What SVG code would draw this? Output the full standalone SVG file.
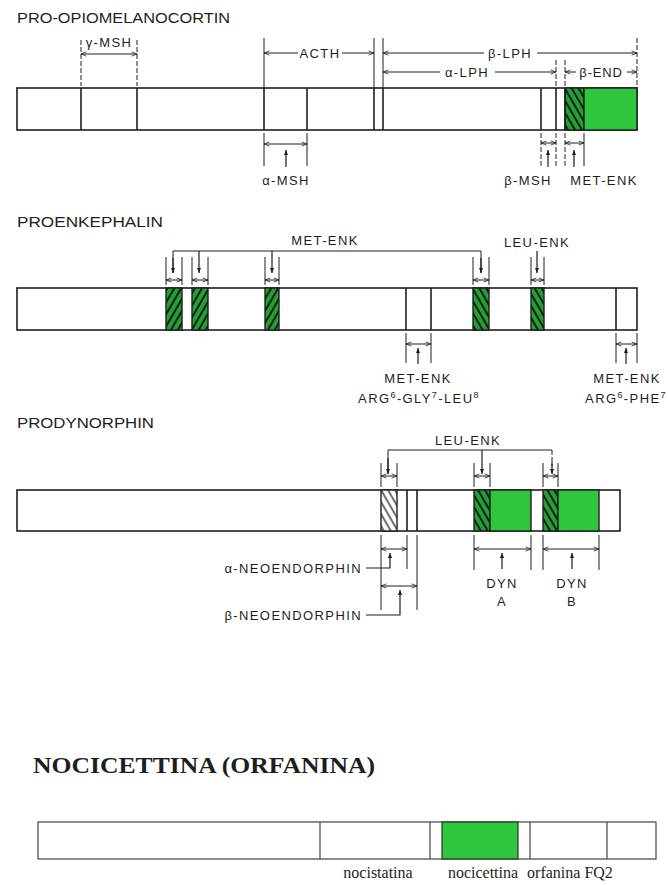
<svg xmlns="http://www.w3.org/2000/svg" width="668" height="885" viewBox="0 0 668 885">
<defs>
<style>
.t{font-family:"Liberation Sans","DejaVu Sans",sans-serif;fill:#1e1e1e;font-size:13px;letter-spacing:1.4px}
.tm{text-anchor:middle}
.h{font-family:"Liberation Sans","DejaVu Sans",sans-serif;fill:#1e1e1e;font-size:15.5px}
.bar{fill:#fff;stroke:#1e1e1e;stroke-width:1.6}
.dv{stroke:#1e1e1e;stroke-width:1.6}
.ext{stroke:#1e1e1e;stroke-width:1;fill:none}
.dash{stroke:#1e1e1e;stroke-width:1;stroke-dasharray:5 2;fill:none}
.dim{stroke:#1e1e1e;stroke-width:1;fill:none;marker-start:url(#ah);marker-end:url(#ah)}
.one{stroke:#1e1e1e;stroke-width:1;fill:none;marker-end:url(#ah)}
.up{stroke:#1e1e1e;stroke-width:1.2;fill:none;marker-end:url(#tri)}
.grn{fill:#2fc63e;stroke:#1e1e1e;stroke-width:1.4}
.hg{fill:url(#hatchG);stroke:#1e1e1e;stroke-width:1.4}
.hg2{fill:url(#hatchG2);stroke:#1e1e1e;stroke-width:1.4}
.hw{fill:url(#hatchW);stroke:#1e1e1e;stroke-width:1.4}
.s{font-family:"Liberation Serif","Times New Roman",serif;fill:#1e1e1e}
</style>
<pattern id="hatchG" patternUnits="userSpaceOnUse" width="6" height="6" patternTransform="rotate(-30)">
<rect width="6" height="6" fill="#22a033"/><line x1="1" y1="0" x2="1" y2="6" stroke="#111" stroke-width="1.8"/>
</pattern>
<pattern id="hatchG2" patternUnits="userSpaceOnUse" width="6" height="6" patternTransform="rotate(30)">
<rect width="6" height="6" fill="#22a033"/><line x1="1" y1="0" x2="1" y2="6" stroke="#111" stroke-width="1.8"/>
</pattern>
<pattern id="hatchW" patternUnits="userSpaceOnUse" width="6" height="6" patternTransform="rotate(-30)">
<rect width="6" height="6" fill="#fff"/><line x1="1" y1="0" x2="1" y2="6" stroke="#111" stroke-width="1.2"/>
</pattern>
<marker id="ah" viewBox="0 0 10 10" refX="10" refY="5" markerWidth="6" markerHeight="6" markerUnits="userSpaceOnUse" orient="auto-start-reverse">
<path d="M1,1.5 L10,5 L1,8.5" fill="none" stroke="#1e1e1e" stroke-width="1.3"/>
</marker>
<marker id="tri" viewBox="0 0 10 10" refX="10" refY="5" markerWidth="7" markerHeight="5" markerUnits="userSpaceOnUse" orient="auto">
<path d="M0,1 L10,5 L0,9 Z" fill="#1e1e1e"/>
</marker>
</defs>
<rect width="668" height="885" fill="#fff"/>

<!-- PRO-OPIOMELANOCORTIN -->
<g id="pomc">
<text class="h" x="17" y="23" textLength="213" lengthAdjust="spacingAndGlyphs">PRO-OPIOMELANOCORTIN</text>
<rect class="bar" x="17" y="88" width="620" height="42"/>
<rect class="hg" x="565" y="88" width="19" height="42"/>
<rect class="grn" x="584" y="88" width="53" height="42"/>
<g class="dv">
<line x1="81" y1="88" x2="81" y2="130"/><line x1="137" y1="88" x2="137" y2="130"/>
<line x1="264" y1="88" x2="264" y2="130"/><line x1="307" y1="88" x2="307" y2="130"/>
<line x1="374" y1="88" x2="374" y2="130"/><line x1="383" y1="88" x2="383" y2="130"/>
<line x1="541" y1="88" x2="541" y2="130"/><line x1="556" y1="88" x2="556" y2="130"/>
<line x1="565" y1="88" x2="565" y2="130"/>
</g>
</g>
<g id="pomc-labels">
<text class="t tm" x="109" y="47">γ-MSH</text>
<text class="t tm" x="320" y="58">ACTH</text>
<text class="t tm" x="510" y="58">β-LPH</text>
<text class="t tm" x="467" y="77">α-LPH</text>
<text class="t tm" x="601" y="77" style="letter-spacing:0.8px">β-END</text>
<text class="t tm" x="286" y="185">α-MSH</text>
<text class="t tm" x="528" y="185">β-MSH</text>
<text class="t tm" x="604" y="185">MET-ENK</text>
</g>

<!-- PROENKEPHALIN -->
<g id="penk">
<text class="h" x="17" y="227" textLength="146" lengthAdjust="spacingAndGlyphs">PROENKEPHALIN</text>
<rect class="bar" x="17" y="288" width="620" height="42"/>
<rect class="hg2" x="166" y="288" width="16" height="42"/>
<rect class="hg2" x="192" y="288" width="16" height="42"/>
<rect class="hg2" x="265" y="288" width="14" height="42"/>
<rect class="hg" x="473" y="288" width="16" height="42"/>
<rect class="hg" x="531" y="288" width="13" height="42"/>
<g class="dv">
<line x1="406" y1="288" x2="406" y2="330"/><line x1="431" y1="288" x2="431" y2="330"/>
<line x1="616" y1="288" x2="616" y2="330"/>
</g>
</g>
<g id="penk-labels">
<text class="t tm" x="325" y="245">MET-ENK</text>
<text class="t tm" x="537" y="247">LEU-ENK</text>
<text class="t tm" x="418" y="383">MET-ENK</text>
<text class="t tm" x="419" y="403">ARG<tspan font-size="9" dy="-5">6</tspan><tspan dy="5">-GLY</tspan><tspan font-size="9" dy="-5">7</tspan><tspan dy="5">-LEU</tspan><tspan font-size="9" dy="-5">8</tspan></text>
<text class="t tm" x="627" y="383">MET-ENK</text>
<text class="t tm" x="626" y="403">ARG<tspan font-size="9" dy="-5">6</tspan><tspan dy="5">-PHE</tspan><tspan font-size="9" dy="-5">7</tspan></text>
</g>

<!-- PRODYNORPHIN -->
<g id="pdyn">
<text class="h" x="17" y="428" textLength="137" lengthAdjust="spacingAndGlyphs">PRODYNORPHIN</text>
<rect class="bar" x="17" y="490" width="603" height="41"/>
<rect class="hw" x="381" y="490" width="16" height="41"/>
<rect class="hg" x="474" y="490" width="16" height="41"/>
<rect class="grn" x="490" y="490" width="41" height="41"/>
<rect class="hg" x="543" y="490" width="15" height="41"/>
<rect class="grn" x="558" y="490" width="41" height="41"/>
<g class="dv">
<line x1="407" y1="490" x2="407" y2="531"/><line x1="417" y1="490" x2="417" y2="531"/>
</g>
</g>
<g id="pdyn-labels">
<text class="t tm" x="468" y="445">LEU-ENK</text>
<text class="t" x="362" y="573" text-anchor="end">α-NEOENDORPHIN</text>
<text class="t" x="362" y="620" text-anchor="end">β-NEOENDORPHIN</text>
<text class="t tm" x="502" y="588">DYN</text>
<text class="t tm" x="502" y="606">A</text>
<text class="t tm" x="572" y="588">DYN</text>
<text class="t tm" x="572" y="606">B</text>
</g>

<!-- NOCICETTINA -->
<g id="noc">
<text class="s" x="33" y="773" font-size="24" font-weight="bold" textLength="342" lengthAdjust="spacingAndGlyphs">NOCICETTINA (ORFANINA)</text>
<rect x="38" y="822" width="618" height="37" fill="#fff" stroke="#444" stroke-width="1.2"/>
<g stroke="#444" stroke-width="1.2">
<line x1="320" y1="822" x2="320" y2="859"/><line x1="430" y1="822" x2="430" y2="859"/>
<line x1="530" y1="822" x2="530" y2="859"/><line x1="607" y1="822" x2="607" y2="859"/>
</g>
<rect x="442" y="822" width="76" height="37" fill="#2fc63e" stroke="#1e3a1e" stroke-width="1.2"/>
<text class="s" x="378" y="878" font-size="16" text-anchor="middle">nocistatina</text>
<text class="s" x="483" y="878" font-size="16" text-anchor="middle">nocicettina</text>
<text class="s" x="570" y="878" font-size="16" text-anchor="middle">orfanina FQ2</text>
</g>

<!-- CONNECTORS -->
<g id="connectors">
<!-- POMC top -->
<line class="dash" x1="81" y1="40" x2="81" y2="86"/><line class="dash" x1="137" y1="40" x2="137" y2="86"/>
<line class="dim" x1="81" y1="54" x2="137" y2="54"/>
<line class="ext" x1="264" y1="38" x2="264" y2="88"/><line class="ext" x1="374" y1="38" x2="374" y2="88"/>
<line class="one" x1="298" y1="53" x2="264" y2="53"/><line class="one" x1="342" y1="53" x2="374" y2="53"/>
<line class="ext" x1="383" y1="38" x2="383" y2="88"/><line class="dash" x1="637" y1="38" x2="637" y2="86"/>
<line class="one" x1="484" y1="53" x2="383" y2="53"/><line class="one" x1="537" y1="53" x2="637" y2="53"/>
<line class="dash" x1="556" y1="60" x2="556" y2="86"/><line class="dash" x1="565" y1="60" x2="565" y2="86"/>
<line class="one" x1="440" y1="72" x2="383" y2="72"/><line class="one" x1="495" y1="72" x2="556" y2="72"/>
<line class="one" x1="576" y1="72" x2="565" y2="72"/><line class="one" x1="627" y1="72" x2="637" y2="72"/>
<!-- POMC bottom -->
<line class="ext" x1="264" y1="133" x2="264" y2="166"/><line class="ext" x1="307" y1="133" x2="307" y2="166"/>
<line class="dim" x1="264" y1="144" x2="307" y2="144"/><line class="up" x1="286" y1="167" x2="286" y2="150"/>
<line class="dash" x1="541" y1="133" x2="541" y2="166"/><line class="dash" x1="556" y1="133" x2="556" y2="166"/>
<line class="dim" x1="541" y1="143" x2="556" y2="143"/><line class="up" x1="548" y1="167" x2="548" y2="150"/>
<line class="dash" x1="565" y1="133" x2="565" y2="166"/><line class="ext" x1="584" y1="133" x2="584" y2="166"/>
<line class="dim" x1="565" y1="143" x2="584" y2="143"/><line class="up" x1="574" y1="167" x2="574" y2="150"/>
<!-- PENK top -->
<polyline class="ext" points="173,273 173,251 481,251 481,273"/>
<line class="up" x1="173" y1="258" x2="173" y2="273"/>
<line class="up" x1="199" y1="251" x2="199" y2="273"/>
<line class="up" x1="272" y1="251" x2="272" y2="273"/>
<line class="up" x1="481" y1="258" x2="481" y2="273"/>
<line class="up" x1="537" y1="251" x2="537" y2="273"/>
<g class="ext">
<line x1="166" y1="257" x2="166" y2="285"/><line x1="182" y1="257" x2="182" y2="285"/>
<line x1="192" y1="257" x2="192" y2="285"/><line x1="208" y1="257" x2="208" y2="285"/>
<line x1="265" y1="257" x2="265" y2="285"/><line x1="279" y1="257" x2="279" y2="285"/>
<line x1="473" y1="257" x2="473" y2="285"/><line x1="489" y1="257" x2="489" y2="285"/>
<line x1="531" y1="257" x2="531" y2="285"/><line x1="544" y1="257" x2="544" y2="285"/>
</g>
<line class="dim" x1="166" y1="280" x2="182" y2="280"/>
<line class="dim" x1="192" y1="280" x2="208" y2="280"/>
<line class="dim" x1="265" y1="280" x2="279" y2="280"/>
<line class="dim" x1="473" y1="280" x2="489" y2="280"/>
<line class="dim" x1="531" y1="280" x2="544" y2="280"/>
<!-- PENK bottom -->
<line class="ext" x1="406" y1="333" x2="406" y2="363"/><line class="ext" x1="431" y1="333" x2="431" y2="363"/>
<line class="dim" x1="406" y1="344" x2="431" y2="344"/><line class="up" x1="418" y1="364" x2="418" y2="348"/>
<line class="ext" x1="616" y1="333" x2="616" y2="363"/><line class="ext" x1="637" y1="333" x2="637" y2="363"/>
<line class="dim" x1="616" y1="344" x2="637" y2="344"/><line class="up" x1="626" y1="364" x2="626" y2="348"/>
<!-- PDYN top -->
<polyline class="ext" points="388,474 388,450 552,450"/>
<line class="up" x1="388" y1="458" x2="388" y2="474"/>
<line class="up" x1="482" y1="450" x2="482" y2="474"/>
<line class="dash" x1="552" y1="450" x2="552" y2="466"/>
<line class="up" x1="552" y1="462" x2="552" y2="474"/>
<g class="ext">
<line x1="381" y1="463" x2="381" y2="487"/><line x1="397" y1="463" x2="397" y2="487"/>
<line x1="474" y1="463" x2="474" y2="487"/><line x1="490" y1="463" x2="490" y2="487"/>
<line x1="543" y1="463" x2="543" y2="487"/><line x1="558" y1="463" x2="558" y2="487"/>
</g>
<line class="dim" x1="381" y1="476" x2="397" y2="476"/>
<line class="dim" x1="474" y1="476" x2="490" y2="476"/>
<line class="dim" x1="543" y1="476" x2="558" y2="476"/>
<!-- PDYN bottom -->
<line class="ext" x1="381" y1="535" x2="381" y2="610"/><line class="ext" x1="407" y1="535" x2="407" y2="569"/>
<line class="ext" x1="417" y1="535" x2="417" y2="610"/>
<line class="dim" x1="381" y1="549" x2="407" y2="549"/>
<polyline class="up" points="366,568 390,568 390,553"/>
<line class="dim" x1="381" y1="586" x2="417" y2="586"/>
<polyline class="up" points="366,615 400,615 400,590"/>
<line class="ext" x1="474" y1="535" x2="474" y2="570"/><line class="ext" x1="531" y1="535" x2="531" y2="570"/>
<line class="dim" x1="474" y1="549" x2="531" y2="549"/><line class="up" x1="502" y1="569" x2="502" y2="553"/>
<line class="ext" x1="543" y1="535" x2="543" y2="570"/><line class="ext" x1="599" y1="535" x2="599" y2="570"/>
<line class="dim" x1="543" y1="549" x2="599" y2="549"/><line class="up" x1="572" y1="569" x2="572" y2="553"/>
</g>
</svg>
